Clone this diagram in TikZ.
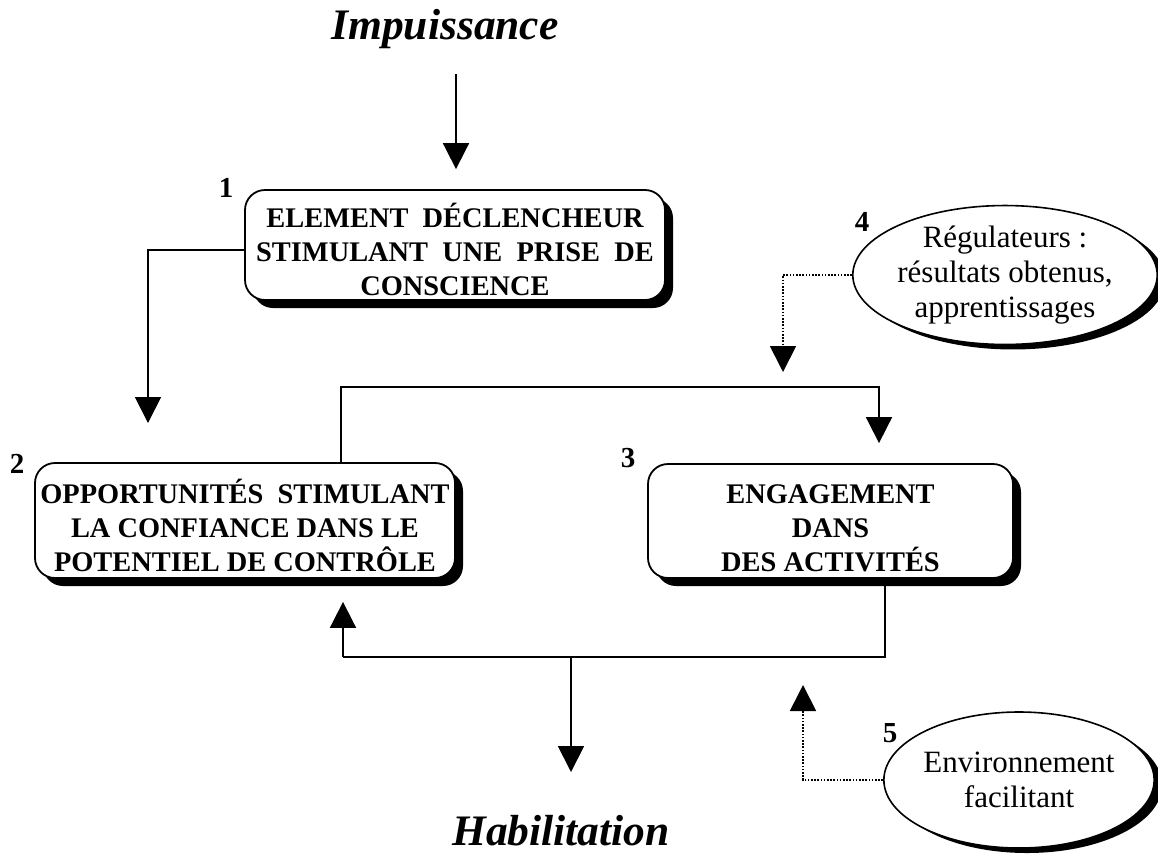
\documentclass[tikz,border=0pt]{standalone}
\usepackage{fontspec}
\setmainfont{Liberation Serif}
\usetikzlibrary{arrows.meta,shapes.geometric,shadows}
\newcommand\bxfont{\fontsize{28.4pt}{34pt}\selectfont\bfseries}
\newcommand\ovfont{\fontsize{31pt}{35pt}\selectfont}
\newcommand\ttlfont{\fontsize{43.5pt}{48pt}\selectfont\bfseries\itshape}
\newcommand\numfont{\fontsize{29pt}{30pt}\selectfont\bfseries}
% taller first line so the text block sits a little lower in its box
\newcommand\topstrut{\rule{0pt}{34pt}}
\begin{document}
\begin{tikzpicture}[x=1pt,y=-1pt,
  box/.style={draw, line width=1.8pt, rounded corners=20pt, fill=white,
    inner sep=0pt, align=center, font=\bxfont,
    drop shadow={shadow xshift=8pt, shadow yshift=-8pt, opacity=1, fill=black}},
  oval/.style={ellipse, draw, line width=1.6pt, fill=white, inner sep=0pt,
    align=center, font=\ovfont,
    drop shadow={shadow xshift=8pt, shadow yshift=-5pt, opacity=1, fill=black}},
  ttl/.style={font=\ttlfont, anchor=base, inner sep=0pt},
  num/.style={font=\numfont, inner sep=0pt},
  conn/.style={line width=1.8pt},
  arr/.style={conn, -{Triangle[length=26pt, width=26pt]}},
  darr/.style={line width=1.8pt, dash pattern=on 1.6pt off 1.6pt,
    -{Triangle[length=26pt, width=26pt]}}]

\useasboundingbox (0,0) rectangle (1158,854);

% titles
\node[ttl] (imp) at (445,39) {Impuissance};
\node[ttl] (hab) at (561,845) {Habilitation};

% main boxes
\node[box, minimum width=420pt, minimum height=110pt] (b1) at (455,245)
  {\topstrut ELEMENT\ \ DÉCLENCHEUR\\STIMULANT\ \ UNE\ \ PRISE\ \ DE\\CONSCIENCE};
\node[box, minimum width=420pt, minimum height=115pt] (b2) at (245,520.5)
  {\topstrut OPPORTUNITÉS\ \ STIMULANT\\LA CONFIANCE DANS LE\\POTENTIEL DE CONTRÔLE};
\node[box, minimum width=365pt, minimum height=114pt] (b3) at (830.5,521)
  {\topstrut ENGAGEMENT\\DANS\\DES ACTIVITÉS};

% regulating ellipses
\node[oval, minimum width=254pt, minimum height=138pt] (e4) at (1005,275)
  {Régulateurs :\\résultats obtenus,\\apprentissages};
\node[oval, minimum width=242pt, minimum height=136pt] (e5) at (1019,780)
  {Environnement\\facilitant};

% step numbers
\node[num] (n1) at (226,188) {1};
\node[num] (n2) at (17,464) {2};
\node[num] (n3) at (628,458) {3};
\node[num] (n4) at (862,222) {4};
\node[num] (n5) at (890,733) {5};

% route points
\coordinate (t1) at (456,74);
\coordinate (k12) at (148,423);
\coordinate (k23) at (341,387);
\coordinate (k3) at (879,387);
\coordinate (k4) at (885,657);
\coordinate (k5) at (343,657);
\coordinate (k6) at (571,657);
\coordinate (k7) at (571,772);
\coordinate (k8) at (783,372);
\coordinate (k9) at (803,685);

% connectors
\draw[arr, shorten >=20pt] (t1) -- (t1 |- b1.north);
\draw[arr] ([yshift=-5pt]b1.west) -| (k12);
\draw[arr, shorten >=20pt] (k23 |- b2.north) -- (k23) -- (k3) -- (k3 |- b3.north);
\draw[conn] (k4 |- b3.south) -- (k4) -- (k5);
\draw[arr, shorten >=23pt] (k5) -- (k5 |- b2.south);
\draw[arr] (k6) -- (k7);
\draw[darr] (e4.west) -| (k8);
\draw[darr] (e5.west) -| (k9);
\end{tikzpicture}
\end{document}
